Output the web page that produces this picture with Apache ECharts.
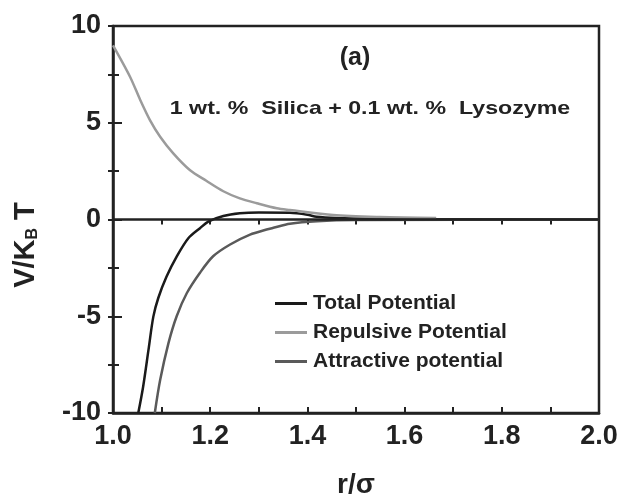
<!DOCTYPE html>
<html>
<head>
<meta charset="utf-8">
<script src="https://cdn.jsdelivr.net/npm/echarts@6/dist/echarts.min.js"></script>
<style>
  html, body { margin: 0; padding: 0; background: #fff; }
  #chart { width: 623px; height: 496px; }
</style>
</head>
<body>
<div id="chart"></div>
<script>
// Interaction potentials versus reduced separation r/sigma
const rTotal = [1.052, 1.062, 1.073, 1.083, 1.093, 1.110, 1.131, 1.155, 1.179, 1.196, 1.227, 1.261, 1.30, 1.364, 1.40, 1.419, 1.46, 1.55, 1.65, 2.0];
const vTotal = [-10, -8.64, -6.74, -5.02, -4.07, -2.96, -1.92, -0.97, -0.45, -0.11, 0.18, 0.32, 0.36, 0.35, 0.25, 0.14, 0.08, 0.04, 0.02, 0.0];

const rRepulsive = [1.0, 1.035, 1.056, 1.076, 1.097, 1.124, 1.158, 1.192, 1.227, 1.261, 1.296, 1.337, 1.364, 1.453, 1.549, 1.665];
const vRepulsive = [9.0, 7.38, 6.18, 5.14, 4.28, 3.42, 2.56, 2.0, 1.46, 1.09, 0.84, 0.58, 0.49, 0.23, 0.13, 0.08];

const rAttractive = [1.086, 1.097, 1.114, 1.131, 1.152, 1.179, 1.206, 1.241, 1.282, 1.316, 1.33, 1.364, 1.42, 1.5, 2.0];
const vAttractive = [-10, -8.3, -6.4, -5.0, -3.8, -2.75, -1.9, -1.29, -0.78, -0.52, -0.43, -0.22, -0.09, -0.03, 0];

const seriesNames = ['Total Potential', 'Repulsive Potential', 'Attractive potential'];
const xTicks = [1.0, 1.2, 1.4, 1.6, 1.8, 2.0];

const pairs = (xs, ys) => xs.map((x, i) => [x, ys[i]]);
const font = 'Liberation Sans, Arial, sans-serif';
const ink = '#222';

const grid = { left: 113, right: 24, top: 26, bottom: 83 };

// secondary axes only carry the outward half of each tick mark
const outerTicks = {
  axisLine: { show: false },
  axisLabel: { show: false },
  splitLine: { show: false },
  axisTick: { inside: false, length: 5, lineStyle: { color: ink, width: 2 } },
  minorTick: { show: true, splitNumber: 2, length: 5, lineStyle: { color: ink, width: 2 } }
};

const chart = echarts.init(document.getElementById('chart'));
chart.setOption({
  animation: false,
  backgroundColor: '#fff',
  grid: Object.assign({ show: true, borderColor: ink, borderWidth: 2.5, containLabel: false, outerBoundsMode: 'none' }, grid),
  legend: {
    orient: 'vertical',
    left: 270,
    top: 288,
    itemWidth: 32,
    itemHeight: 3,
    itemGap: 8,
    icon: 'rect',
    textStyle: { fontFamily: font, fontWeight: 'bold', fontSize: 21, color: ink, padding: [0, 0, 0, 1] },
    data: seriesNames
  },
  xAxis: [{
    type: 'value',
    min: 1.0,
    max: 2.0,
    interval: 0.2,
    name: 'r/σ',
    nameLocation: 'middle',
    nameGap: 58,
    nameTextStyle: { fontFamily: font, fontWeight: 'bold', fontSize: 28, color: ink },
    axisLine: { onZero: false, lineStyle: { color: ink, width: 2.5 } },
    axisTick: { inside: true, length: 6, lineStyle: { color: ink, width: 2 } },
    minorTick: { show: true, splitNumber: 2, length: 6, lineStyle: { color: ink, width: 2 } },
    splitLine: { show: false },
    axisLabel: {
      fontFamily: font, fontWeight: 'bold', fontSize: 27, color: ink, margin: 10,
      formatter: v => xTicks.some(t => Math.abs(t - v) < 1e-6) ? v.toFixed(1) : ''
    }
  }, Object.assign({ type: 'value', min: 1.0, max: 2.0, interval: 0.2, position: 'bottom' }, outerTicks)],
  yAxis: [{
    type: 'value',
    min: -10,
    max: 10,
    interval: 5,
    axisLine: { onZero: false, lineStyle: { color: ink, width: 2.5 } },
    axisTick: { inside: true, length: 9, lineStyle: { color: ink, width: 2 } },
    minorTick: { show: true, splitNumber: 2, length: 6, lineStyle: { color: ink, width: 2 } },
    splitLine: { show: false },
    axisLabel: { fontFamily: font, fontWeight: 'bold', fontSize: 27, color: ink, margin: 12 }
  }, Object.assign({ type: 'value', min: -10, max: 10, interval: 5, position: 'left' }, outerTicks)],
  graphic: [
    {
      type: 'text', x: 26, y: 245, rotation: Math.PI / 2,
      style: {
        text: '{v|V/K}{s|B}{v| T}', align: 'center', verticalAlign: 'middle',
        rich: {
          v: { font: 'bold 29px ' + font, fill: ink },
          s: { font: 'bold 16px ' + font, fill: ink, padding: [14, 0, 0, 0] }
        }
      }
    },
    { type: 'text', x: 355, y: 58, style: { text: '(a)', font: 'bold 25px ' + font, fill: ink, align: 'center', verticalAlign: 'middle' } },
    {
      type: 'text', x: 370, y: 109, scaleX: 1.22,
      style: { text: '1 wt. %  Silica + 0.1 wt. %  Lysozyme', font: 'bold 19px ' + font, fill: ink, align: 'center', verticalAlign: 'middle' }
    }
  ],
  series: [
    {
      name: seriesNames[0], type: 'line', showSymbol: false, smooth: 0.3,
      lineStyle: { color: '#1a1a1a', width: 2.5 }, itemStyle: { color: '#1a1a1a' },
      data: pairs(rTotal, vTotal),
      z: 3,
      markLine: {
        silent: true, symbol: 'none', label: { show: false },
        lineStyle: { color: ink, width: 2.5, type: 'solid' },
        data: [{ yAxis: 0 }]
      }
    },
    {
      name: seriesNames[1], type: 'line', showSymbol: false, smooth: 0.3,
      lineStyle: { color: '#9b9b9b', width: 2.5 }, itemStyle: { color: '#9b9b9b' },
      data: pairs(rRepulsive, vRepulsive)
    },
    {
      name: seriesNames[2], type: 'line', showSymbol: false, smooth: 0.3,
      lineStyle: { color: '#5a5a5a', width: 2.5 }, itemStyle: { color: '#5a5a5a' },
      data: pairs(rAttractive, vAttractive)
    }
  ]
});
</script>
</body>
</html>
